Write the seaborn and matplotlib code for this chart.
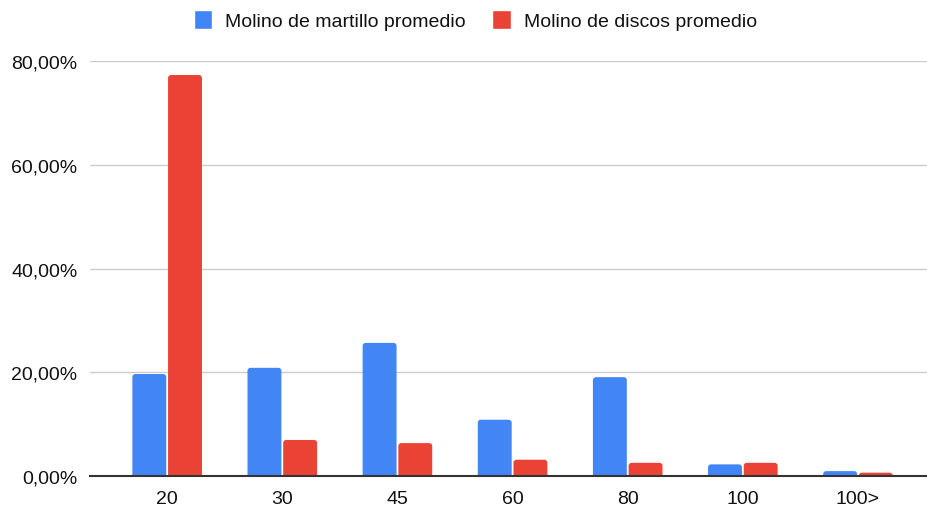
import matplotlib
matplotlib.use("Agg")
import matplotlib.pyplot as plt
from matplotlib.patches import FancyBboxPatch
from matplotlib.ticker import FuncFormatter
import seaborn as sns
import pandas as pd

# Particle size classes and average retained fraction (%) per mill type
categorias = ["20", "30", "45", "60", "80", "100", "100>"]
martillo = [19.7, 20.9, 25.7, 10.9, 19.1, 2.3, 1.0]
discos = [77.3, 7.0, 6.4, 3.2, 2.6, 2.6, 0.7]
series = ["Molino de martillo promedio", "Molino de discos promedio"]
colores = ["#4285F4", "#EA4335"]

df = pd.DataFrame({
    "categoria": categorias * 2,
    "valor": martillo + discos,
    "serie": [series[0]] * len(categorias) + [series[1]] * len(categorias),
})

sns.set_theme(style="white")
plt.rcParams["font.family"] = ["Liberation Sans", "DejaVu Sans"]

fig = plt.figure(figsize=(9.28, 5.10), dpi=100)
ax = fig.add_axes([0.097, 0.0641, 0.902, 0.8143])

sns.barplot(data=df, x="categoria", y="valor", hue="serie", order=categorias,
            hue_order=series, palette=colores, width=0.62, gap=0.05,
            saturation=1, ax=ax, legend=True)

ax.set_ylim(0, 80)
ax.set_xlim(-0.67, 6.6)

# Replace plain rectangles with softly rounded bars (top corners visible)
xscale = 115.2  # px per category
yscale = 5.19   # px per percent
r = 3.0
for p in list(ax.patches):
    if not hasattr(p, "get_width") or p.get_height() <= 0:
        continue
    x, w, h = p.get_x(), p.get_width(), p.get_height()
    fc = p.get_facecolor()
    p.set_visible(False)
    fb = FancyBboxPatch((x, -2), w, h + 2,
                        boxstyle=f"round,pad=0,rounding_size={r / xscale}",
                        mutation_aspect=(r / yscale) / (r / xscale),
                        facecolor=fc, edgecolor="none", zorder=2)
    ax.add_patch(fb)

ax.yaxis.set_major_formatter(FuncFormatter(lambda v, _: f"{v:.2f}%".replace(".", ",")))
ax.set_yticks([0, 20, 40, 60, 80])
ax.grid(axis="y", color="#cccccc", linewidth=1.0, zorder=0)
ax.set_axisbelow(True)
for s in ["top", "right", "left"]:
    ax.spines[s].set_visible(False)
ax.spines["bottom"].set_color("#333333")
ax.spines["bottom"].set_linewidth(1.5)
ax.spines["bottom"].set_zorder(5)
ax.tick_params(axis="both", length=0, labelsize=14, colors="#111111")
ax.tick_params(axis="y", pad=9)
ax.tick_params(axis="x", pad=10)
ax.set_xlabel("")
ax.set_ylabel("")

handles, labels = ax.get_legend_handles_labels()
ax.get_legend().remove()
fig.legend(handles, labels, loc="upper center", bbox_to_anchor=(0.512, 1.012),
           ncol=2, frameon=False, fontsize=14, handlelength=0.95,
           handleheight=1.1, handletextpad=0.65, columnspacing=1.4,
           labelcolor="#111111")

fig.savefig("out.png", dpi=100)
